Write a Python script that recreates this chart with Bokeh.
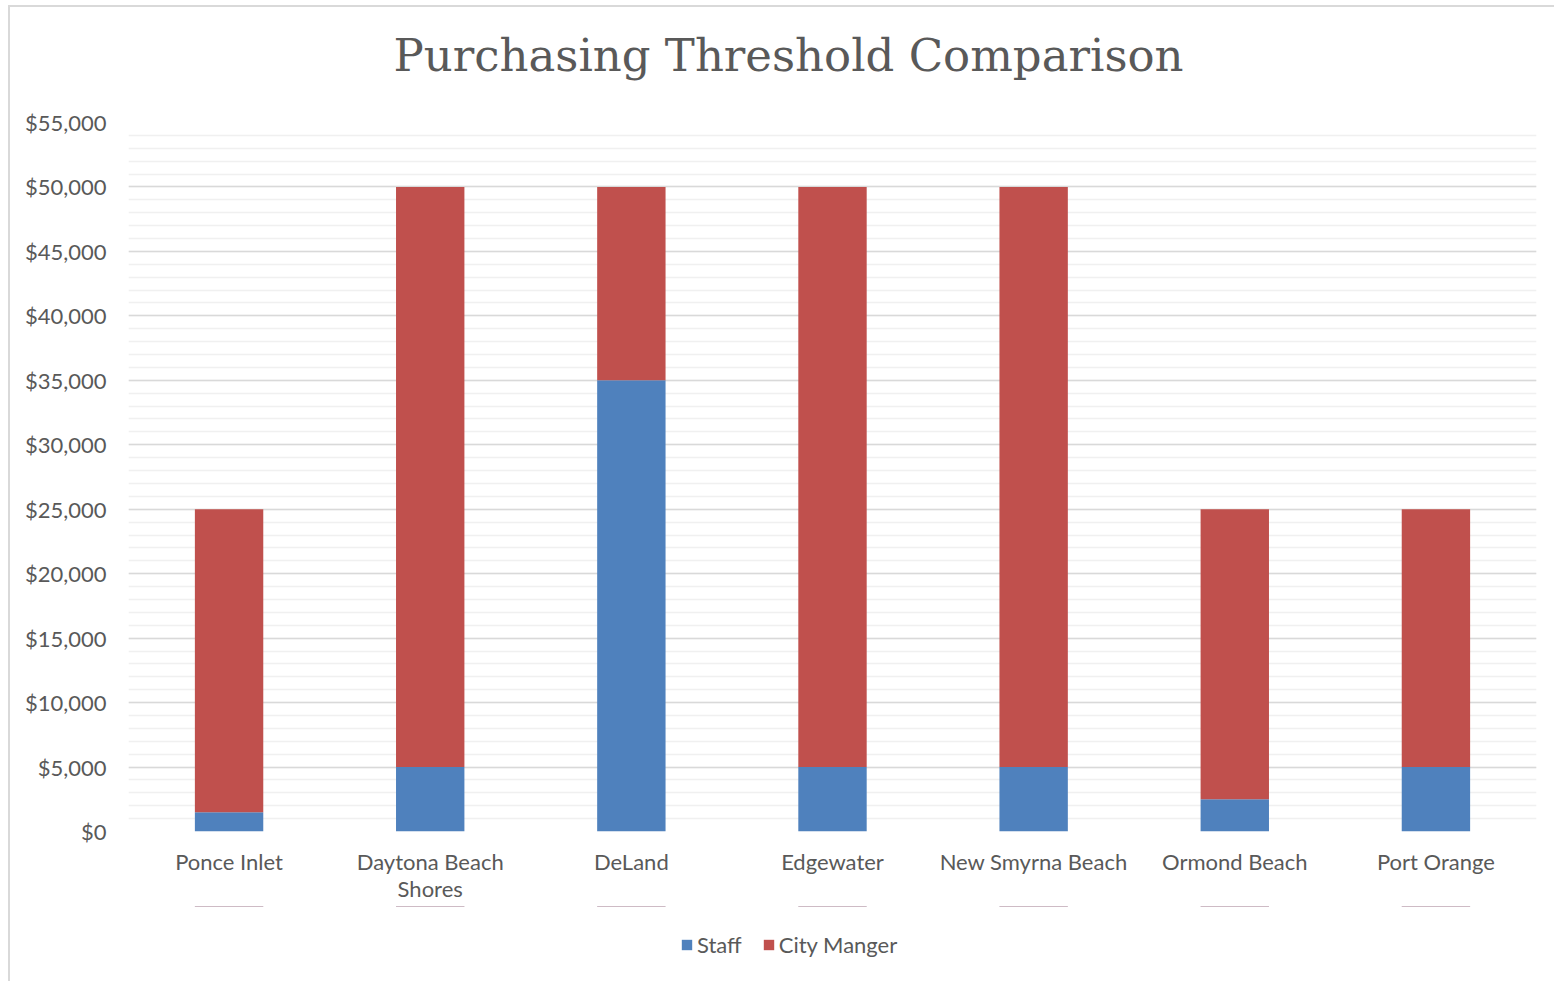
from bokeh.plotting import figure
from bokeh.layouts import column
from bokeh.models import (ColumnDataSource, FixedTicker, NumeralTickFormatter,
                          Legend, LegendItem, LinearAxis, Range1d, Title)
from bokeh.embed import file_html
from bokeh.resources import INLINE

# ---- data ----
cities = ["Ponce Inlet", "Daytona Beach Shores", "DeLand", "Edgewater",
          "New Smyrna Beach", "Ormond Beach", "Port Orange"]
# tick labels as shown (one category wraps onto a second line)
x_labels_line1 = ["Ponce Inlet", "Daytona Beach", "DeLand", "Edgewater",
                  "New Smyrna Beach", "Ormond Beach", "Port Orange"]
x_labels_line2 = ["", "Shores", "", "", "", "", ""]
staff = [1500, 5000, 35000, 5000, 5000, 2500, 5000]
city_manager = [23500, 45000, 15000, 45000, 45000, 22500, 20000]
series = ["Staff", "City Manger"]
colors = ["#4f81bd", "#c0504d"]
y_major_ticks = list(range(0, 55001, 5000))
y_minor_ticks = list(range(0, 55001, 1000))
title_text = "Purchasing Threshold Comparison"

xpos = list(range(len(cities)))
source = ColumnDataSource(dict(x=xpos, city=cities, Staff=staff,
                               **{"City Manger": city_manager}))

TEXT = "#595959"
LABEL_FONT = "Lato"
LABEL_SIZE = "22px"
W = 1544
MAIN_H = 899
LEG_H = 75

p = figure(x_range=Range1d(-0.5, len(cities) - 0.5), y_range=(0, 55000),
           width=W, height=MAIN_H,
           output_backend="svg", toolbar_location=None,
           min_border_left=118, min_border_right=18,
           min_border_top=115, min_border_bottom=75)
p.outline_line_color = None

renderers = p.vbar_stack(series, x="x", width=0.34, color=colors,
                         line_color=None, source=source)

# title
p.title.text = title_text
p.title.text_font = "DejaVu Serif"
p.title.text_font_size = "45px"
p.title.text_font_style = "normal"
p.title.text_color = TEXT
p.title.align = "left"
p.title.offset = 265
p.title.standoff = 10
# empty spacer between title and plot area
p.add_layout(Title(text=" ", text_font_size="20px", standoff=12), "above")

# grid
p.xgrid.grid_line_color = None
p.ygrid.ticker = FixedTicker(ticks=y_major_ticks, minor_ticks=y_minor_ticks)
p.ygrid.grid_line_color = "#d9d9d9"
p.ygrid.grid_line_width = 1.5
p.ygrid.minor_grid_line_color = "#f0f0f0"
p.ygrid.minor_grid_line_width = 1.5

# y axis
yax = p.yaxis[0]
yax.ticker = FixedTicker(ticks=y_major_ticks)
yax.formatter = NumeralTickFormatter(format="$0,0")
yax.axis_line_color = None
yax.major_tick_line_color = None
yax.minor_tick_line_color = None
yax.major_tick_out = 0
yax.major_tick_in = 0
yax.major_label_standoff = 22
yax.major_label_text_font = LABEL_FONT
yax.major_label_text_font_size = LABEL_SIZE
yax.major_label_text_color = TEXT


def style_xaxis(ax, standoff, labels):
    ax.ticker = FixedTicker(ticks=xpos)
    ax.major_label_overrides = {i: lab for i, lab in zip(xpos, labels)}
    ax.axis_line_color = None
    ax.major_tick_line_color = None
    ax.minor_tick_line_color = None
    ax.major_tick_out = 0
    ax.major_tick_in = 0
    ax.major_label_standoff = standoff
    ax.major_label_text_font = LABEL_FONT
    ax.major_label_text_font_size = LABEL_SIZE
    ax.major_label_text_color = TEXT


style_xaxis(p.xaxis[0], 16, x_labels_line1)
xax2 = LinearAxis()
style_xaxis(xax2, -3, x_labels_line2)
p.add_layout(xax2, "below")

# ---- legend strip below the chart ----
# the same stacked bars are drawn here outside the visible y-range, only to key the legend
pl = figure(x_range=Range1d(-0.5, len(cities) - 0.5), y_range=Range1d(-2, -1),
            width=W, height=LEG_H,
            output_backend="svg", toolbar_location=None,
            x_axis_type=None, y_axis_type=None,
            min_border_left=0, min_border_right=0, min_border_top=0, min_border_bottom=0)
pl.outline_line_color = None
pl.xgrid.visible = False
pl.ygrid.visible = False
key_renderers = pl.vbar_stack(series, x="x", width=0.34, color=colors,
                              line_color=None, source=source)
legend = Legend(items=[LegendItem(label=s, renderers=[r]) for s, r in zip(series, key_renderers)],
                orientation="horizontal", location=(552, 23),
                glyph_width=13, glyph_height=13, label_standoff=4, spacing=20,
                label_text_font=LABEL_FONT, label_text_font_size=LABEL_SIZE,
                label_text_color=TEXT, border_line_color=None,
                background_fill_alpha=0, padding=0, margin=0)
pl.add_layout(legend, "center")

layout = column(p, pl, spacing=0)
layout.styles = {"margin-left": "8px", "margin-top": "5px",
                 "border-left": "2px solid #d9d9d9", "border-top": "2px solid #d9d9d9"}

open("out.html", "w").write(file_html(layout, INLINE))
